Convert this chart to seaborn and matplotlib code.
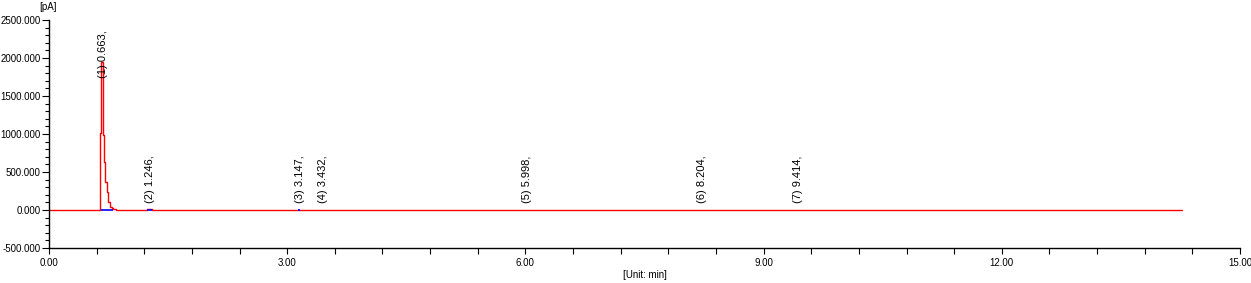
import numpy as np
import pandas as pd
import matplotlib
matplotlib.use("Agg")
import matplotlib.pyplot as plt
import seaborn as sns
from matplotlib.ticker import MultipleLocator

# ---- data ----
trace_time = [0.0, 0.646, 0.655, 0.684, 0.697, 0.709, 0.726, 0.747, 0.768, 0.790,
              0.810, 0.850, 1.230, 1.300, 14.27]
trace_signal = [0, 1017, 1947, 987, 636, 373, 241, 110, 44, 20, 8, 0, 10, 0, 0]

peak_ids = [1, 2, 3, 4, 5, 6, 7]
peak_rt = [0.663, 1.246, 3.147, 3.432, 5.998, 8.204, 9.414]
peak_label_y = [1740, 90, 90, 90, 90, 90, 90]

base_start = [0.655, 1.230, 3.140]
base_end = [0.800, 1.300, 3.155]

x_ticks = [0, 3, 6, 9, 12, 15]
y_ticks = [-500, 0, 500, 1000, 1500, 2000, 2500]

sns.set_theme(style="white")
plt.rcParams['font.family'] = ['Liberation Sans', 'DejaVu Sans']

fig = plt.figure(figsize=(12.51, 2.83), dpi=100)
ax = fig.add_axes([49/1251, 1-248/283, (1240-49)/1251, (248-20)/283])

df = pd.DataFrame({"t": trace_time, "s": trace_signal})
sns.lineplot(data=df, x="t", y="s", ax=ax, color="#ff0000", lw=1.0,
             drawstyle="steps-post", estimator=None, sort=False)

for s, e in zip(base_start, base_end):
    ax.plot([s, e], [0, 0], color="#0000ff", lw=1.2, solid_capstyle="butt")

for pid, rt, ly in zip(peak_ids, peak_rt, peak_label_y):
    ax.text(rt + 0.02, ly, f"({pid}) {rt:.3f},", rotation=90, ha="center", va="bottom",
            fontsize=8, color="black")

ax.set_xlim(0, 15)
ax.set_ylim(-500, 2500)
ax.set_xticks(x_ticks)
ax.set_xticklabels([f"{v:.2f}" for v in x_ticks])
ax.set_yticks(y_ticks)
ax.set_yticklabels([f"{v:.3f}" for v in y_ticks])
ax.xaxis.set_minor_locator(MultipleLocator(0.6))
ax.yaxis.set_minor_locator(MultipleLocator(100))

for side in ["top", "right"]:
    ax.spines[side].set_visible(False)
for side in ["left", "bottom"]:
    ax.spines[side].set_color("black")
    ax.spines[side].set_linewidth(1.0)

ax.tick_params(axis="both", which="both", direction="out", colors="black",
               labelsize=7, width=0.8, bottom=True, left=True)
ax.tick_params(axis="x", which="major", length=4, pad=3)
ax.tick_params(axis="x", which="minor", length=4)
ax.tick_params(axis="y", which="major", length=5, pad=1)
ax.tick_params(axis="y", which="minor", length=3)

ax.set_xlabel("[Unit: min]", fontsize=7, labelpad=2, color="black")
ax.set_ylabel("")
fig.text(48/1251, 1-7/283, "[pA]", fontsize=7, ha="center", va="center", color="black")

fig.savefig("out.png", dpi=100)
